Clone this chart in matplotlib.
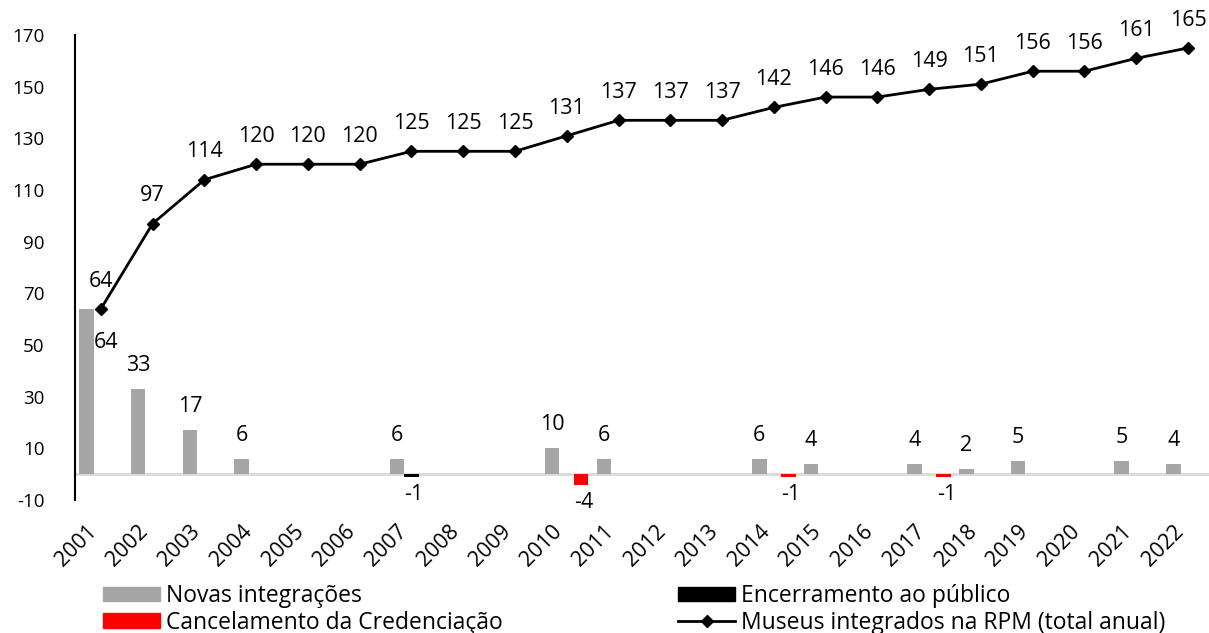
import matplotlib
matplotlib.use('Agg')
import matplotlib.pyplot as plt
import numpy as np
from matplotlib.patches import Patch
from matplotlib.lines import Line2D

# data
years = ['2001', '2002', '2003', '2004', '2005', '2006', '2007', '2008', '2009', '2010', '2011',
         '2012', '2013', '2014', '2015', '2016', '2017', '2018', '2019', '2020', '2021', '2022']
novas = [64, 33, 17, 6, 0, 0, 6, 0, 0, 10, 6, 0, 0, 6, 4, 0, 4, 2, 5, 0, 5, 4]
encerramento = [0, 0, 0, 0, 0, 0, -1, 0, 0, 0, 0, 0, 0, 0, 0, 0, 0, 0, 0, 0, 0, 0]
cancelamento = [0, 0, 0, 0, 0, 0, 0, 0, 0, -4, 0, 0, 0, -1, 0, 0, -1, 0, 0, 0, 0, 0]
total = [64, 97, 114, 120, 120, 120, 125, 125, 125, 131, 137, 137, 137, 142, 146, 146,
         149, 151, 156, 156, 161, 165]

lbl_novas = 'Novas integrações'
lbl_enc = 'Encerramento ao público'
lbl_canc = 'Cancelamento da Credenciação'
lbl_total = 'Museus integrados na RPM (total anual)'

plt.rcParams['font.family'] = ['Open Sans', 'DejaVu Sans']
plt.rcParams['axes.unicode_minus'] = False

GRAY = '#a6a6a6'
fig = plt.figure(figsize=(12.09, 6.33), dpi=100)
ax = fig.add_axes([0.062, 0.210, 0.942, 0.7346])

x = np.arange(len(years))
w = 0.28
ax.axhline(0, color='#d9d9d9', lw=2, zorder=0.5)
ax.bar(x - w, novas, w, color=GRAY, zorder=1)
ax.bar(x, encerramento, w, color='black', zorder=1)
ax.bar(x + w, cancelamento, w, color='red', zorder=1)
ax.plot(x, total, color='black', lw=2, marker='D', ms=6.5, zorder=3)

# labels
fs = 15.5
for i, v in enumerate(total):
    ax.annotate(str(v), (x[i], v), xytext=(0, 20), textcoords='offset points',
                ha='center', va='center', fontsize=fs)
for i, v in enumerate(novas):
    if v == 0:
        continue
    if i == 0:
        ax.annotate(str(v), (x[i] - w, v), xytext=(14, -24), textcoords='offset points',
                    ha='center', va='center', fontsize=fs)
    else:
        ax.annotate(str(v), (x[i] - w, v), xytext=(0, 17), textcoords='offset points',
                    ha='center', va='center', fontsize=fs)
for series, off in [(encerramento, 0), (cancelamento, w)]:
    for i, v in enumerate(series):
        if v != 0:
            ax.annotate(str(v), (x[i] + off, v), xytext=(2, -13), textcoords='offset points',
                        ha='center', va='center', fontsize=fs)

ax.set_xlim(-0.5, 21.5)
ax.set_ylim(-10, 170)
ax.set_yticks(range(-10, 171, 20))
ax.set_xticks(x)
ax.set_xticklabels(years, rotation=45, ha='right', va='top')
ax.tick_params(axis='y', length=0, pad=22, labelsize=13.5)
ax.tick_params(axis='x', length=0, pad=15, labelsize=15.5)
for s in ['top', 'right', 'bottom']:
    ax.spines[s].set_visible(False)
ax.spines['left'].set_linewidth(1.5)

common = dict(loc='upper left', frameon=False, borderpad=0, borderaxespad=0,
              handlelength=2.5, handleheight=0.6, handletextpad=0.25,
              labelspacing=0.12, fontsize=16.5)
fig.legend(handles=[Patch(color=GRAY), Patch(color='red')], labels=[lbl_novas, lbl_canc],
           bbox_to_anchor=(103 / 1209, 1 - 584 / 633), **common)
fig.legend(handles=[Patch(color='black'),
                    Line2D([], [], color='black', lw=2, marker='D', ms=6.5)],
           labels=[lbl_enc, lbl_total], bbox_to_anchor=(678 / 1209, 1 - 584 / 633), **common)

fig.savefig('out.png', dpi=100)
